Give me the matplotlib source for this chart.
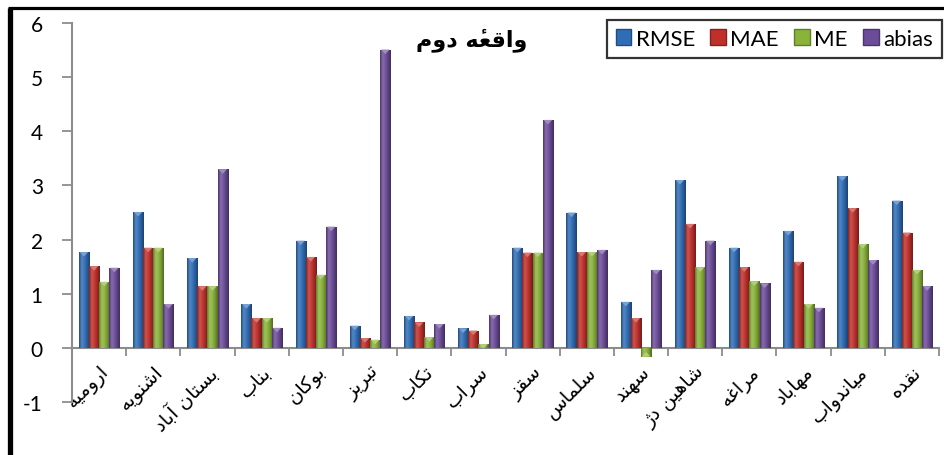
import numpy as np
import matplotlib
matplotlib.use("Agg")
import matplotlib.pyplot as plt
from matplotlib.colors import LinearSegmentedColormap, to_rgb
from matplotlib.patches import Patch, Polygon
from matplotlib.lines import Line2D

# ---- data -------------------------------------------------------------
stations = ["ارومیه", "اشنویه", "بستان آباد", "بناب", "بوکان", "تبریز", "تکاب",
            "سراب", "سقز", "سلماس", "سهند", "شاهین دژ", "مراغه", "مهاباد",
            "میاندواب", "نقده"]
rmse  = [1.77, 2.51, 1.66, 0.81, 1.98, 0.41, 0.59, 0.36, 1.85, 2.50, 0.85, 3.10, 1.85, 2.16, 3.17, 2.72]
mae   = [1.51, 1.85, 1.14, 0.55, 1.68, 0.18, 0.47, 0.32, 1.76, 1.77, 0.55, 2.29, 1.49, 1.59, 2.58, 2.13]
me    = [1.22, 1.85, 1.14, 0.55, 1.35, 0.15, 0.20, 0.07, 1.76, 1.77, -0.16, 1.49, 1.23, 0.81, 1.92, 1.44]
abias = [1.48, 0.81, 3.30, 0.37, 2.24, 5.51, 0.44, 0.61, 4.21, 1.81, 1.44, 1.98, 1.19, 0.74, 1.62, 1.14]
series_names = ["RMSE", "MAE", "ME", "abias"]
title_text = "واقعۀ دوم"
y_ticks = [-1, 0, 1, 2, 3, 4, 5, 6]

# ---- minimal Arabic-script shaping (contextual forms + RTL order) -----
FORMS = {  # iso, fin, ini, med  (None -> letter does not join to the left)
    "ا": ("\uFE8D", "\uFE8E", None, None),
    "آ": ("\uFE81", "\uFE82", None, None),
    "ب": ("\uFE8F", "\uFE90", "\uFE91", "\uFE92"),
    "ت": ("\uFE95", "\uFE96", "\uFE97", "\uFE98"),
    "د": ("\uFEA9", "\uFEAA", None, None),
    "ر": ("\uFEAD", "\uFEAE", None, None),
    "ز": ("\uFEAF", "\uFEB0", None, None),
    "ژ": ("\uFB8A", "\uFB8B", None, None),
    "س": ("\uFEB1", "\uFEB2", "\uFEB3", "\uFEB4"),
    "ش": ("\uFEB5", "\uFEB6", "\uFEB7", "\uFEB8"),
    "ع": ("\uFEC9", "\uFECA", "\uFECB", "\uFECC"),
    "غ": ("\uFECD", "\uFECE", "\uFECF", "\uFED0"),
    "ق": ("\uFED5", "\uFED6", "\uFED7", "\uFED8"),
    "ک": ("\uFB8E", "\uFB8F", "\uFB90", "\uFB91"),
    "ل": ("\uFEDD", "\uFEDE", "\uFEDF", "\uFEE0"),
    "م": ("\uFEE1", "\uFEE2", "\uFEE3", "\uFEE4"),
    "ن": ("\uFEE5", "\uFEE6", "\uFEE7", "\uFEE8"),
    "ه": ("\uFEE9", "\uFEEA", "\uFEEB", "\uFEEC"),
    "و": ("\uFEED", "\uFEEE", None, None),
    "ی": ("\uFBFC", "\uFBFD", "\uFBFE", "\uFBFF"),
}
# heh with hamza above: drawn as heh plus a combining hamza mark
DECOMPOSE = {"ۀ": "ه\u0654"}
MARKS = {"\u0654"}


def shape(text):
    for k, v in DECOMPOSE.items():
        text = text.replace(k, v)
    # split into clusters of base letter + following marks
    clusters = []
    for ch in text:
        if ch in MARKS and clusters:
            clusters[-1][1].append(ch)
        else:
            clusters.append([ch, []])
    n = len(clusters)
    out = []
    for i, (ch, marks) in enumerate(clusters):
        if ch in FORMS:
            prev = clusters[i - 1][0] if i > 0 else None
            nxt = clusters[i + 1][0] if i < n - 1 else None
            join_prev = prev in FORMS and FORMS[prev][2] is not None
            join_next = nxt in FORMS and FORMS[ch][2] is not None
            iso, fin, ini, med = FORMS[ch]
            if join_prev and join_next:
                g = med
            elif join_prev:
                g = fin
            elif join_next:
                g = ini
            else:
                g = iso
        else:
            g = ch
        out.append(g + "".join(marks))
    return "".join(out[::-1])


# ---- styling ----------------------------------------------------------
plt.rcParams["font.family"] = ["Lato", "DejaVu Sans"]
base_colors = ["#2f6db6", "#c0302b", "#8ab33a", "#6c4c99"]
axis_grey = "#8c8c8c"

W, H = 944, 456
fig = plt.figure(figsize=(W / 100, H / 100), dpi=100)
fig.patch.set_facecolor("white")
ax = fig.add_axes([72 / W, 1 - 403 / H, (939 - 72) / W, (403 - 24) / H])

x = np.arange(len(stations))
group_w = 0.75
bw = group_w / 4
all_series = [rmse, mae, me, abias]


def shade(c, f):
    r, g, b = to_rgb(c)
    if f >= 0:
        return (r + (1 - r) * f, g + (1 - g) * f, b + (1 - b) * f)
    return (r * (1 + f), g * (1 + f), b * (1 + f))


for k, (vals, col) in enumerate(zip(all_series, base_colors)):
    offs = (k - 1.5) * bw
    bars = ax.bar(x + offs, vals, width=bw, color=col, edgecolor="none",
                  zorder=2, label=series_names[k])
    cmap = LinearSegmentedColormap.from_list(
        "cyl%d" % k,
        [shade(col, -0.30), shade(col, 0.18), shade(col, 0.05),
         shade(col, -0.15), shade(col, -0.40)])
    grad = np.linspace(0, 1, 64).reshape(1, -1)
    for b in bars:
        x0, y0 = b.get_x(), b.get_y()
        w, h = b.get_width(), b.get_height()
        lo, hi = min(y0, y0 + h), max(y0, y0 + h)
        im = ax.imshow(grad, cmap=cmap, extent=[x0, x0 + w, lo, hi],
                       aspect="auto", interpolation="bilinear", zorder=3)
        im.set_clip_path(b)
        # bevelled cap on the bar end
        cap = 0.085
        tip_y = hi if h >= 0 else lo
        d = -cap if h >= 0 else cap
        tri = Polygon([[x0 + 0.08 * w, tip_y], [x0 + 0.92 * w, tip_y],
                       [x0 + 0.5 * w, tip_y + d]], closed=True,
                      facecolor=shade(col, 0.35), edgecolor="none", zorder=4)
        ax.add_patch(tri)

ax.set_xlim(-0.5, len(stations) - 0.5)
ax.set_ylim(-1, 6)

for s in ["top", "right"]:
    ax.spines[s].set_visible(False)
ax.spines["bottom"].set_position(("data", 0))
ax.spines["bottom"].set_color(axis_grey)
ax.spines["left"].set_color(axis_grey)
ax.spines["bottom"].set_linewidth(1.5)
ax.spines["left"].set_linewidth(1.5)

ax.set_yticks(y_ticks)
ax.set_yticklabels([str(v) for v in y_ticks], fontsize=15)
ax.tick_params(axis="y", direction="out", length=7, width=1.3,
               color=axis_grey, pad=14)

ax.set_xticks(x)
ax.set_xticks(np.arange(len(stations) + 1) - 0.5, minor=True)
ax.tick_params(axis="x", which="major", length=0, pad=10)
ax.tick_params(axis="x", which="minor", length=6, width=1.3,
               color=axis_grey, direction="out")
ax.set_xticklabels([shape(s) for s in stations], rotation=45, ha="right",
                   rotation_mode="anchor", fontsize=14,
                   family=["DejaVu Sans"])

# chart title
fig.text(472 / W, 1 - 40 / H, shape(title_text), ha="center", va="center",
         fontsize=16, fontweight="bold", family=["DejaVu Sans"])

# legend
handles = [Patch(facecolor=c, edgecolor=shade(c, -0.3)) for c in base_colors]
leg = fig.legend(handles, series_names, loc="upper right",
                 bbox_to_anchor=(942 / W, 1 - 21 / H), ncol=4, fontsize=16,
                 frameon=True, fancybox=False, handlelength=0.7,
                 handleheight=0.7, handletextpad=0.2, columnspacing=0.7,
                 borderpad=0.4, borderaxespad=0)
leg.get_frame().set_edgecolor("black")
leg.get_frame().set_linewidth(1.6)

# outer frame of the chart area
fig.add_artist(Line2D([10 / W, 10 / W], [0, 1 - 8.5 / H], color="black",
                      linewidth=3.8, transform=fig.transFigure,
                      solid_capstyle="butt"))
fig.add_artist(Line2D([8 / W, 1], [1 - 8.5 / H, 1 - 8.5 / H], color="black",
                      linewidth=2.3, transform=fig.transFigure,
                      solid_capstyle="butt"))

fig.savefig("out.png", dpi=100)
